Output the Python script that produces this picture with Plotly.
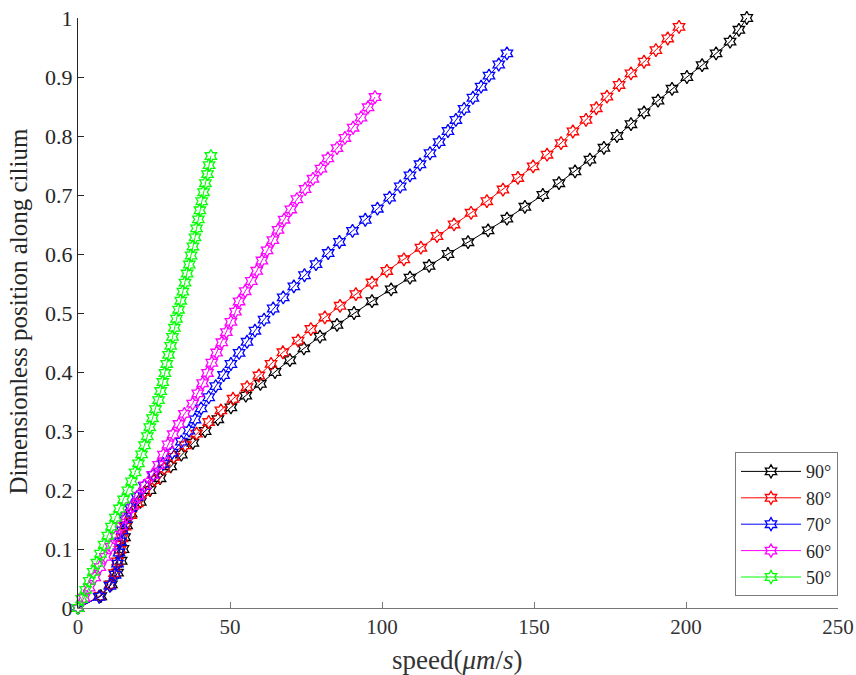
import plotly.graph_objects as go

# Dimensionless position along cilium: 51 points per series, y = (k/50)*ymax
names = ["90°", "80°", "70°", "60°", "50°"]
colors = ["#000000", "#ff0000", "#0000ff", "#ff00ff", "#00ff00"]
y_max = [1.0, 0.985, 0.940, 0.866, 0.766]

speed_90 = [0, 7.5, 11, 13, 14.2, 14.8, 15.3, 16, 17.5, 20.5, 23.7, 27, 30.5, 34, 37.8,
            41.8, 46, 50.3, 55.2, 60, 64.8, 69.7, 74.3, 79.6, 85.2, 90.8, 96.7, 103, 109.2,
            115.5, 121.7, 128.3, 134.9, 141.1, 147, 152.9, 158.2, 163.5, 168.4, 173.0, 177.3,
            181.9, 186.2, 190.8, 195.4, 200.3, 205.3, 209.9, 214.5, 217.4, 220]
speed_80 = [0, 7, 10.5, 12, 13, 13.8, 14.5, 15.5, 17.3, 19.5, 22, 25.2, 28.4, 31.5, 35.3,
            39, 43, 47, 51, 55.6, 59.5, 63.5, 67.4, 72.4, 76.6, 81.2, 86.2, 91.4, 96.7,
            101.6, 107.2, 112.8, 118.1, 123.7, 129.3, 134.5, 139.8, 144.7, 149.7, 154.3, 158.9,
            162.8, 167.1, 170.5, 174, 178, 181.9, 186.2, 190.1, 194, 197.7]
speed_70 = [0, 7, 10.5, 12.2, 13, 13.5, 14, 14.6, 15.6, 17.3, 19.4, 21.8, 24.8, 28, 31,
            34, 36.5, 38.5, 40.5, 43, 45.3, 47.9, 50.3, 53, 55.6, 58.2, 61.2, 64.2, 67.5,
            71, 74.5, 78.3, 82.3, 86, 90.3, 94.5, 98.5, 102.5, 106, 109.2, 112.5, 115.8,
            118.8, 121.7, 124.3, 127, 129.9, 132.6, 135.2, 138.4, 141.1]
speed_60 = [0, 2, 3.7, 5.5, 7.2, 9, 10.8, 12.5, 14.2, 16, 18, 20, 22, 24.5, 26.5,
            28.1, 29.6, 31.3, 33.2, 35, 37.7, 39.4, 41, 42.6, 44, 45.6, 47.3, 48.8, 50.3,
            51.8, 53, 55, 57, 58.8, 60.5, 62.2, 64.1, 65.8, 67.8, 70, 72, 74.7, 77.3,
            79.9, 82.2, 85.2, 87.8, 90.5, 93.1, 95.4, 97.7]
speed_50 = [0, 1.2, 2.5, 3.7, 5.0, 6.2, 7.4, 8.6, 9.8, 11.0, 12.3, 13.6, 15.0, 16.4, 17.6,
            18.8, 19.9, 20.9, 21.9, 22.8, 23.6, 24.5, 25.5, 26.5, 27.2, 27.9, 28.6, 29.2, 29.8,
            30.5, 31.1, 31.7, 32.4, 33.1, 33.8, 34.5, 35.2, 35.9, 36.6, 37.2, 37.8, 38.5,
            39, 39.6, 40.1, 40.7, 41.3, 41.9, 42.6, 43.1, 43.7]
speeds = [speed_90, speed_80, speed_70, speed_60, speed_50]

x_ticks = [0, 50, 100, 150, 200, 250]
y_ticks = [0, 0.1, 0.2, 0.3, 0.4, 0.5, 0.6, 0.7, 0.8, 0.9, 1]
y_ticklabels = ["0", "0.1", "0.2", "0.3", "0.4", "0.5", "0.6", "0.7", "0.8", "0.9", "1"]

FONT = "Liberation Serif"

fig = go.Figure()
for name, col, ym, xs in zip(names, colors, y_max, speeds):
    n = len(xs) - 1
    ys = [ym * k / n for k in range(n + 1)]
    fig.add_trace(go.Scatter(
        x=xs, y=ys, name=name, mode="lines+markers",
        line=dict(color=col, width=1),
        marker=dict(symbol="hexagram-open", size=10, color=col, line=dict(width=1.3, color=col)),
        cliponaxis=False,
    ))

fig.update_layout(
    width=856, height=675,
    margin=dict(l=78, r=18, t=18, b=67, autoexpand=False),
    plot_bgcolor="white", paper_bgcolor="white",
    font=dict(family=FONT, size=20, color="#262626"),
    showlegend=True,
    legend=dict(
        x=1, y=0.02, xanchor="right", yanchor="bottom",
        bgcolor="white", bordercolor="#7a7a7a", borderwidth=1,
        font=dict(family=FONT, size=18, color="#262626"),
        tracegroupgap=0, itemwidth=60,
    ),
    xaxis=dict(
        range=[0, 250], tickvals=x_ticks, ticks="inside", ticklen=6, automargin=False,
        ticklabeloverflow="allow",
        tickcolor="#777777", showline=True, linecolor="#777777", linewidth=1,
        showgrid=False, zeroline=False, tickfont=dict(family=FONT, size=21, color="#333333"),
    ),
    yaxis=dict(
        range=[0, 1], tickvals=y_ticks, ticktext=y_ticklabels, ticks="inside", ticklen=6, automargin=False,
        ticklabeloverflow="allow",
        tickcolor="#262626", showline=True, linecolor="#262626", linewidth=1,
        showgrid=False, zeroline=False, tickfont=dict(family=FONT, size=22),
    ),
    annotations=[
        dict(text="speed(<i>μm</i>/<i>s</i>)", xref="paper", yref="paper", x=0.499, y=-0.088,
             xanchor="center", yanchor="middle", showarrow=False,
             font=dict(family=FONT, size=27, color="#333333")),
        dict(text="Dimensionless position along cilium", xref="paper", yref="paper", x=-0.0789, y=0.5025,
             xanchor="center", yanchor="middle", textangle=-90, showarrow=False,
             font=dict(family=FONT, size=25, color="#262626")),
    ],
)

# remove the default 8px page margin so the figure fills the window exactly
fig.write_html("out.html", config={"displayModeBar": False},
               post_script="document.body.style.margin='0';document.body.style.overflow='hidden';")
